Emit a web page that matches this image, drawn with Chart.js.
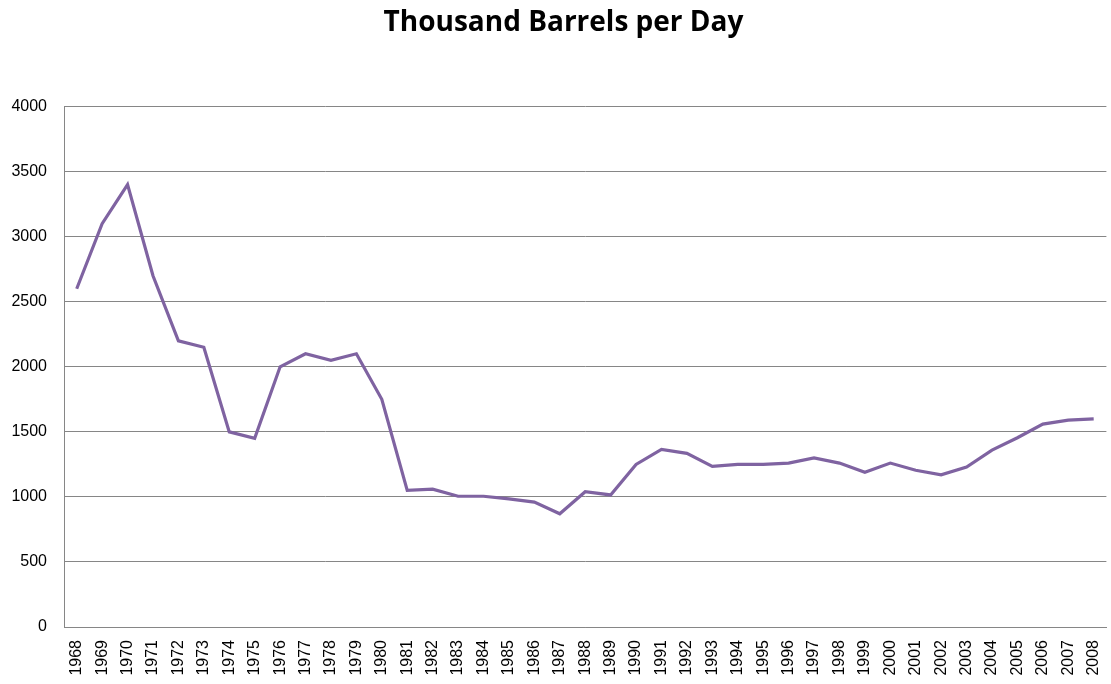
<!DOCTYPE html>
<html>
<head>
<meta charset="utf-8">
<script src="https://cdn.jsdelivr.net/npm/chart.js@4/dist/chart.umd.min.js"></script>
<style>
  html, body { margin: 0; padding: 0; background: #fff; overflow: hidden; }
  #wrap { width: 1126px; height: 684px; }
</style>
</head>
<body>
<div id="wrap"><canvas id="oilChart" width="1126" height="684"></canvas></div>
<script>
const years = [];
for (let y = 1968; y <= 2008; y++) years.push(String(y));

const barrels = [2600, 3100, 3400, 2700, 2200, 2150, 1500, 1450, 2000, 2100,
                 2050, 2100, 1750, 1050, 1060, 1005, 1005, 985, 960, 870,
                 1040, 1015, 1250, 1365, 1335, 1235, 1250, 1250, 1260, 1300,
                 1260, 1190, 1260, 1205, 1170, 1230, 1360, 1455, 1560, 1590,
                 1600];

const yTicks = [0, 500, 1000, 1500, 2000, 2500, 3000, 3500, 4000];

let oilChart;

function initChart() {
    oilChart = new Chart(document.getElementById('oilChart').getContext('2d'), {
        type: 'line',
        data: {
            labels: years,
            datasets: [{
                label: 'Thousand Barrels per Day',
                data: barrels,
                borderColor: '#7f63a1',
                borderWidth: 3.2,
                pointRadius: 0,
                fill: false,
                tension: 0
            }]
        },
        options: {
            responsive: false,
            animation: false,
            layout: { padding: { left: 10, right: 9, top: 0, bottom: 0 } },
            plugins: {
                legend: { display: false },
                tooltip: { enabled: false },
                title: {
                    display: true,
                    text: 'Thousand Barrels per Day',
                    color: '#000',
                    font: { family: 'Open Sans', size: 28, weight: 'bold' },
                    padding: { top: 6, bottom: 67 }
                }
            },
            scales: {
                x: {
                    offset: true,
                    grid: { display: false, drawTicks: false },
                    border: { display: true, color: '#868686', width: 1 },
                    ticks: {
                        color: '#000',
                        font: { family: 'Liberation Sans', size: 16 },
                        minRotation: 90,
                        maxRotation: 90,
                        autoSkip: false,
                        padding: 13
                    },
                    afterFit: s => { s.height = 57; }
                },
                y: {
                    min: 0,
                    max: 4000,
                    afterBuildTicks: s => { s.ticks = yTicks.map(v => ({ value: v })); },
                    grid: { color: '#868686', lineWidth: 1, drawTicks: false },
                    border: { display: true, color: '#868686', width: 1 },
                    ticks: {
                        color: '#000',
                        font: { family: 'Liberation Sans', size: 16 },
                        padding: 17,
                        callback: v => String(v)
                    },
                    afterFit: s => { s.width = 54; }
                }
            }
        }
    });
}

initChart();
</script>
</body>
</html>
